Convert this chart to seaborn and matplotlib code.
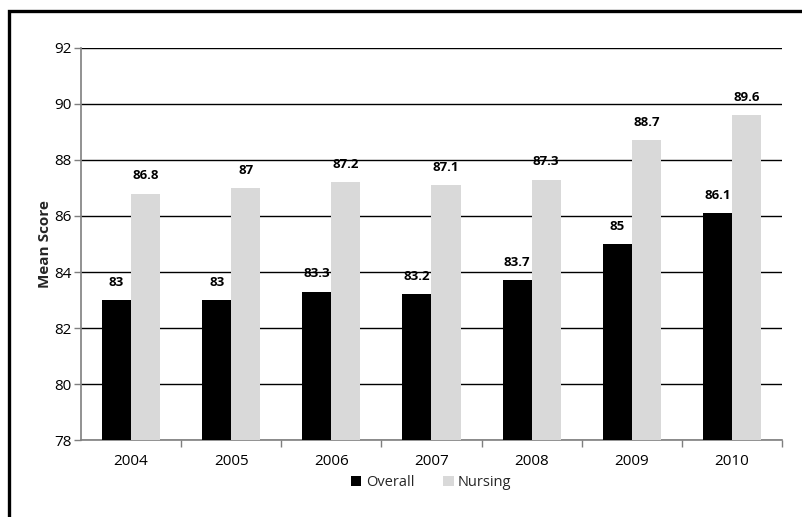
import matplotlib
matplotlib.use("Agg")
import matplotlib.pyplot as plt
from matplotlib.patches import Rectangle
from matplotlib.ticker import FixedLocator
import seaborn as sns
import pandas as pd

years = ["2004", "2005", "2006", "2007", "2008", "2009", "2010"]
overall = [83, 83, 83.3, 83.2, 83.7, 85, 86.1]
nursing = [86.8, 87, 87.2, 87.1, 87.3, 88.7, 89.6]
series_names = ["Overall", "Nursing"]
series_colors = ["#000000", "#d9d9d9"]

df = pd.DataFrame({
    "Year": years * 2,
    "Group": [series_names[0]] * len(years) + [series_names[1]] * len(years),
    "Score": overall + nursing,
})

sns.set_theme(style="white")
plt.rcParams["font.family"] = ["Open Sans", "DejaVu Sans"]

fig = plt.figure(figsize=(8.03, 5.17), dpi=100)
ax = fig.add_axes([0.1009, 0.1489, 0.8729, 0.7583])

sns.barplot(data=df, x="Year", y="Score", hue="Group", order=years,
            hue_order=series_names, palette=series_colors, width=0.58,
            gap=0, saturation=1, linewidth=0, ax=ax, zorder=3)

ax.set_ylim(78, 92)
ax.set_yticks(range(78, 93, 2))
ax.yaxis.grid(True, color="black", linewidth=1.0, zorder=0)
ax.set_axisbelow(True)

for container in ax.containers:
    ax.bar_label(container, fmt="%g", padding=8, fontsize=9.5,
                 fontweight="bold", color="black")

for side in ("top", "right"):
    ax.spines[side].set_visible(False)
for side in ("left", "bottom"):
    ax.spines[side].set_color("#7f7f7f")
    ax.spines[side].set_linewidth(1.2)

ax.set_xlim(-0.5, len(years) - 0.5)
ax.tick_params(axis="y", which="major", left=True, length=5, width=1,
               color="#7f7f7f", labelsize=11, pad=2, labelcolor="black")
ax.tick_params(axis="x", which="major", bottom=False, labelsize=11, pad=4,
               labelcolor="black")
ax.xaxis.set_minor_locator(FixedLocator([i + 0.5 for i in range(len(years))]))
ax.tick_params(axis="x", which="minor", bottom=True, length=5, width=1,
               color="#7f7f7f")

ax.set_xlabel("")
ax.set_ylabel("Mean Score", fontsize=11, fontweight="bold", labelpad=1)

handles, labels = ax.get_legend_handles_labels()
ax.legend(handles, labels, loc="center", bbox_to_anchor=(0.537, 0.066),
          bbox_transform=fig.transFigure, ncol=2, frameon=False,
          fontsize=10.5, handlelength=0.7, handleheight=0.7,
          handletextpad=0.3, columnspacing=2.0)

# outer frame, open towards the right and bottom edges
fig.patches.append(Rectangle((9 / 803, -0.1), 1.1, 1.1 - 11 / 517,
                             transform=fig.transFigure, fill=False,
                             edgecolor="black", linewidth=2.4))

fig.savefig("out.png", dpi=100, facecolor="white")
